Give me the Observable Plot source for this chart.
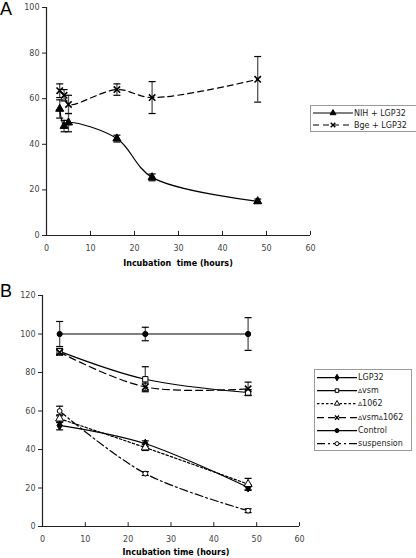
<!DOCTYPE html>
<html>
<head>
<meta charset="utf-8">
<script src="https://cdn.jsdelivr.net/npm/d3@7"></script>
<script src="https://cdn.jsdelivr.net/npm/@observablehq/plot@0.6"></script>
<style>
  body { margin: 0; background: #fff; }
  #chart { position: relative; width: 416px; height: 558px; overflow: hidden; font-family: "DejaVu Sans", Verdana, sans-serif; }
  .panel { position: absolute; left: 0; }
  .plab { position: absolute; left: 0; font-family: "Liberation Sans", Arial, sans-serif; font-size: 18px; line-height: 18px; color: #000; }
  .xtitle { position: absolute; font-size: 8px; font-weight: bold; color: #000; white-space: pre; transform: translate(-50%, -50%); }
  .legend { position: absolute; border: 1px solid #999; background: #fff; font-size: 8px; color: #222; padding: 1px 2px 1px 1px; box-sizing: border-box; }
  .legend .row { display: flex; align-items: center; white-space: nowrap; }
  .legend svg { display: block; flex: none; }
  .d { font-size: 6px; }
</style>
</head>
<body>
<div id="chart"></div>
<script>
// ---------------- Panel A data ----------------
const hoursA = [3, 4, 5, 16, 24, 48];
const nihMean = [55.5, 48, 49.5, 42.5, 25.5, 15];
const nihErr  = [4, 2.5, 4, 1.5, 1.5, 1];
const bgeMean = [63.5, 61.5, 57.5, 64, 60.5, 68.5];
const bgeErr  = [3, 2.5, 4, 2.5, 7, 10];
const seriesA = ["NIH + LGP32", "Bge + LGP32"];

// ---------------- Panel B data ----------------
const hoursB = [4, 24, 48];
const lgp32Mean   = [52.5, 43, 20.3];
const lgp32Err    = [2.3, 1.5, 1.5];
const vsmMean     = [91, 76.5, 69.6];
const vsmErr      = [1.5, 6.5, 1.5];
const d1062Mean   = [56, 41, 22];
const d1062Err    = [2, 1.5, 3];
const vsm1062Mean = [90.5, 72.5, 71.5];
const vsm1062Err  = [1.5, 2, 3.5];
const controlMean = [100, 100, 100];
const controlErr  = [6.5, 3.5, 8.5];
const suspMean    = [60, 27.5, 8.2];
const suspErr     = [2.5, 1, 1];
const seriesB = ["LGP32", "Δvsm", "Δ1062", "ΔvsmΔ1062", "Control", "suspension"];

const xTicks = [0, 10, 20, 30, 40, 50, 60];
const yTicksA = [0, 20, 40, 60, 80, 100];
const yTicksB = [0, 20, 40, 60, 80, 100, 120];

function rows(xs, means, errs) {
  return xs.map((x, i) => ({x, y: means[i], lo: means[i] - errs[i], hi: means[i] + errs[i]}));
}

const stylesA = [
  {name: seriesA[0], data: rows(hoursA, nihMean, nihErr), dash: null, symbol: "triangle", fill: "#000", stroke: "#000", r: 3, lr: 2.2},
  {name: seriesA[1], data: rows(hoursA, bgeMean, bgeErr), dash: "6,4", symbol: "times", fill: "none", stroke: "#000", r: 3, sw: 1.6, lr: 2.2}
];
const stylesB = [
  {name: seriesB[0], data: rows(hoursB, lgp32Mean, lgp32Err), dash: null, symbol: "diamond", fill: "#000", stroke: "#000", r: 2.8, lr: 2},
  {name: seriesB[1], data: rows(hoursB, vsmMean, vsmErr), dash: null, symbol: "square", fill: "#fff", stroke: "#000", r: 3, lr: 2},
  {name: seriesB[2], data: rows(hoursB, d1062Mean, d1062Err), dash: "2.5,2", symbol: "triangle", fill: "#fff", stroke: "#000", r: 3, lr: 2},
  {name: seriesB[3], data: rows(hoursB, vsm1062Mean, vsm1062Err), dash: "7,4", symbol: "times", fill: "none", stroke: "#000", r: 3, sw: 1.6, lr: 2},
  {name: seriesB[4], data: rows(hoursB, controlMean, controlErr), dash: null, symbol: "circle", fill: "#000", stroke: "#000", r: 2.6, lr: 2},
  {name: seriesB[5], data: rows(hoursB, suspMean, suspErr), dash: "8,3,2,3", symbol: "circle", fill: "#fff", stroke: "#000", r: 2.4, lr: 2}
];

function panel({styles, yDomain, yTicks, height, mt, mb, ml, mr, cap, tickUp}) {
  const marks = [
    Plot.ruleY([0], {stroke: "#222", strokeWidth: 1.2}),
    Plot.ruleX([0], {stroke: "#222", strokeWidth: 1.2}),
    Plot.ruleX(xTicks, {x: d => d, y1: 0, y2: tickUp, stroke: "#222"}),
    Plot.axisY(yTicks, {tickSize: 4, tickPadding: 3, fontSize: 8, color: "#444", stroke: "#222", tickFormat: d => String(d)}),
    Plot.axisX(xTicks, {tickSize: 0, tickPadding: 10, fontSize: 8, color: "#444", tickFormat: d => String(d)})
  ];
  for (const s of styles) {
    marks.push(Plot.ruleX(s.data, {x: "x", y1: "lo", y2: "hi", stroke: "#555", strokeWidth: 1.3}));
    marks.push(Plot.link(s.data, {x1: d => d.x - cap, x2: d => d.x + cap, y1: "hi", y2: "hi", stroke: "#000", strokeWidth: 1.2}));
    marks.push(Plot.link(s.data, {x1: d => d.x - cap, x2: d => d.x + cap, y1: "lo", y2: "lo", stroke: "#000", strokeWidth: 1.2}));
  }
  for (const s of styles) {
    marks.push(Plot.line(s.data, {x: "x", y: "y", curve: "catmull-rom", stroke: "#000", strokeWidth: 1.2, strokeDasharray: s.dash || undefined}));
  }
  for (const s of styles) {
    marks.push(Plot.dot(s.data, {x: "x", y: "y", symbol: s.symbol, r: s.r, fill: s.fill, stroke: s.stroke, strokeWidth: s.sw || 1}));
  }
  return Plot.plot({
    width: 416, height,
    marginTop: mt, marginBottom: mb, marginLeft: ml, marginRight: mr,
    style: {fontFamily: "DejaVu Sans, Verdana, sans-serif", background: "transparent", overflow: "visible"},
    x: {domain: [0, 60], label: null},
    y: {domain: yDomain, label: null},
    marks
  });
}

const chart = document.getElementById("chart");

const pA = panel({styles: stylesA, yDomain: [0, 100], yTicks: yTicksA, height: 270, mt: 7, mb: 35, ml: 46, mr: 106, cap: 0.8, tickUp: 1.8});
pA.classList.add("panel"); pA.style.top = "0px";
chart.appendChild(pA);

const pB = panel({styles: stylesB, yDomain: [0, 120], yTicks: yTicksB, height: 288, mt: 25, mb: 32, ml: 42, mr: 117, cap: 0.82, tickUp: 2});
pB.classList.add("panel"); pB.style.top = "270px";
chart.appendChild(pB);

function addDiv(cls, html, css) {
  const d = document.createElement("div");
  d.className = cls; d.innerHTML = html;
  Object.assign(d.style, css);
  chart.appendChild(d);
  return d;
}

addDiv("plab", "A", {top: "0px"});
addDiv("plab", "B", {top: "282px"});
addDiv("xtitle", "Incubation  time (hours)", {left: "178px", top: "263px"});
addDiv("xtitle", "Incubation time (hours)", {left: "176px", top: "552px"});

function legend(styles, css, rowH, lineW, labelFmt) {
  const box = addDiv("legend", "", css);
  const symMap = {triangle: d3.symbolTriangle, times: d3.symbolTimes, diamond: d3.symbolDiamond, square: d3.symbolSquare, circle: d3.symbolCircle};
  for (const s of styles) {
    const row = document.createElement("div");
    row.className = "row";
    row.style.height = rowH + "px";
    const svg = d3.create("svg").attr("width", lineW).attr("height", rowH);
    svg.append("line").attr("x1", 1).attr("x2", lineW - 1).attr("y1", rowH / 2).attr("y2", rowH / 2)
      .attr("stroke", "#000").attr("stroke-width", 1.1).attr("stroke-dasharray", s.dash || null);
    svg.append("path").attr("d", d3.symbol(symMap[s.symbol], Math.PI * s.lr * s.lr)())
      .attr("transform", `translate(${lineW / 2},${rowH / 2})`)
      .attr("fill", s.fill).attr("stroke", s.stroke).attr("stroke-width", s.sw ? 1.4 : 1);
    row.appendChild(svg.node());
    const t = document.createElement("span");
    t.innerHTML = labelFmt(s.name);
    row.appendChild(t);
    box.appendChild(row);
  }
}

legend(stylesA, {left: "310px", top: "105px", width: "108px", height: "27px"}, 12, 42, n => n);
legend(stylesB, {left: "314px", top: "369px", width: "98px", height: "82px"}, 13.2, 42,
  n => n.replace(/Δ/g, '<span class="d">Δ</span>'));
</script>
</body>
</html>
